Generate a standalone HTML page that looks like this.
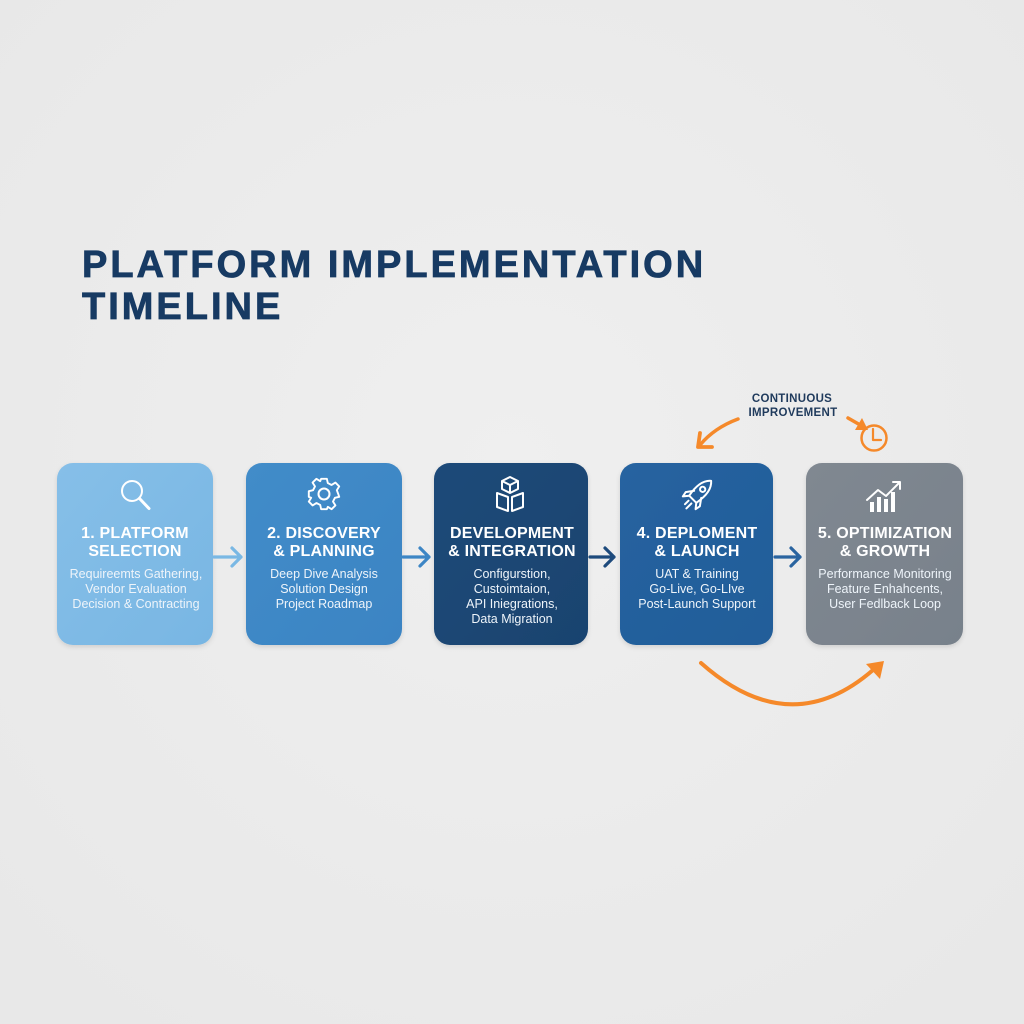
<!DOCTYPE html>
<html><head><meta charset="utf-8"><style>
html,body{margin:0;padding:0;background:#ebebeb;}
svg{display:block;}
</style></head><body>
<svg width="1024" height="1024" viewBox="0 0 1024 1024" xmlns="http://www.w3.org/2000/svg">
<defs>
<radialGradient id="bg" cx="50%" cy="45%" r="70%"><stop offset="0" stop-color="#efefef"/><stop offset="1" stop-color="#e8e8e8"/></radialGradient>
<linearGradient id="g1" x1="0" y1="0" x2="1" y2="1"><stop offset="0" stop-color="#86bfe8"/><stop offset="1" stop-color="#78b6e3"/></linearGradient>
<linearGradient id="g2" x1="0" y1="0" x2="1" y2="1"><stop offset="0" stop-color="#428cc9"/><stop offset="1" stop-color="#3b84c3"/></linearGradient>
<linearGradient id="g3" x1="0" y1="0" x2="1" y2="1"><stop offset="0" stop-color="#1d4a79"/><stop offset="1" stop-color="#19436f"/></linearGradient>
<linearGradient id="g4" x1="0" y1="0" x2="1" y2="1"><stop offset="0" stop-color="#2663a0"/><stop offset="1" stop-color="#225d99"/></linearGradient>
<linearGradient id="g5" x1="0" y1="0" x2="1" y2="1"><stop offset="0" stop-color="#808891"/><stop offset="1" stop-color="#78818b"/></linearGradient>
<filter id="sh" x="-10%" y="-10%" width="120%" height="125%"><feDropShadow dx="0" dy="2" stdDeviation="2.5" flood-color="#000" flood-opacity="0.12"/></filter>
</defs>
<rect width="1024" height="1024" fill="url(#bg)"/>

<!-- Title -->
<g font-family="Liberation Sans, sans-serif" font-weight="bold" font-size="38" fill="#173a63" stroke="#173a63" stroke-width="0.8" letter-spacing="3">
<text x="82" y="277">PLATFORM IMPLEMENTATION</text>
<text x="82" y="319">TIMELINE</text>
</g>

<!-- Boxes -->
<g filter="url(#sh)">
<rect x="57" y="463" width="156" height="182" rx="16" fill="url(#g1)"/>
<rect x="246" y="463" width="156" height="182" rx="16" fill="url(#g2)"/>
<rect x="434" y="463" width="154" height="182" rx="16" fill="url(#g3)"/>
<rect x="620" y="463" width="153" height="182" rx="16" fill="url(#g4)"/>
<rect x="806" y="463" width="157" height="182" rx="16" fill="url(#g5)"/>
</g>

<!-- connector arrows -->
<g fill="none" stroke-width="3.2" stroke-linecap="round" stroke-linejoin="round">
<path d="M214 557 H241 M232 548 L241 557 L232 566" stroke="#7ab8e4"/>
<path d="M403 557 H429 M420 548 L429 557 L420 566" stroke="#3d86c5"/>
<path d="M590 557 H614 M605 548 L614 557 L605 566" stroke="#1d4a7c"/>
<path d="M775 557 H800 M791 548 L800 557 L791 566" stroke="#2a64a0"/>
</g>

<!-- Icons -->
<g fill="none" stroke="#ffffff" stroke-width="2" stroke-linecap="round" stroke-linejoin="round">
<circle cx="132" cy="491" r="10"/>
<path d="M139.5 498.5 L149 508.5" stroke-width="3"/>
<g transform="translate(324,494)">
<path d="M-3 -16 L3 -16 L4 -11.5 L8 -9.5 L12 -12 L16 -8 L13.5 -4 L15 0 L16 3 L11.5 4 L9.5 8 L12 12 L8 16 L4 13.5 L3 16 L-3 16 L-4 11.5 L-8 9.5 L-12 12 L-16 8 L-13.5 4 L-16 3 L-16 -3 L-11.5 -4 L-9.5 -8 L-12 -12 L-8 -16 L-4 -13.5 Z" transform="scale(0.95)"/>
<circle cx="0" cy="0" r="5.5"/>
</g>
<g transform="translate(510,495)">
<path d="M-8 -14 L0 -18 L8 -14 L8 -6 L0 -2 L-8 -6 Z M-8 -14 L0 -10 L8 -14 M0 -10 L0 -2"/>
<path d="M-13 -2 L-2 2 L-2 16 L-13 12 Z M13 -2 L2 2 L2 16 L13 12 Z"/>
</g>
<g transform="translate(697,495) rotate(45)">
<path d="M0 -20 C7 -14 7 -4 5 6 L-5 6 C-7 -4 -7 -14 0 -20 Z"/>
<circle cx="0" cy="-8" r="2.6"/>
<path d="M-5 -1 L-10 6 L-9 11 L-5 6 M5 -1 L10 6 L9 11 L5 6"/>
<path d="M-2 10 L-2 15 M2 10 L2 17"/>
</g>
<g>
<path d="M867 500 L878 490 L886 496 L899 483"/>
<path d="M893 482 L900 482 L900 489" />
</g>
</g>
<g fill="#ffffff">
<rect x="870" y="502" width="4" height="10"/>
<rect x="877" y="497" width="4" height="15"/>
<rect x="884" y="499" width="4" height="13"/>
<rect x="891" y="492" width="4" height="20"/>
</g>

<!-- Box titles -->
<g font-family="Liberation Sans, sans-serif" font-weight="bold" font-size="16" fill="#ffffff" text-anchor="middle" letter-spacing="0.2">
<text x="135" y="538">1. PLATFORM</text>
<text x="135" y="556">SELECTION</text>
<text x="324" y="538">2. DISCOVERY</text>
<text x="324" y="556">&amp; PLANNING</text>
<text x="512" y="538">DEVELOPMENT</text>
<text x="512" y="556">&amp; INTEGRATION</text>
<text x="697" y="538">4. DEPLOMENT</text>
<text x="697" y="556">&amp; LAUNCH</text>
<text x="885" y="538">5. OPTIMIZATION</text>
<text x="885" y="556">&amp; GROWTH</text>
</g>

<!-- Box descriptions -->
<g font-family="Liberation Sans, sans-serif" font-size="12.5" fill="#eef4fa" text-anchor="middle">
<text x="136" y="578">Requireemts Gathering,</text>
<text x="136" y="593">Vendor Evaluation</text>
<text x="136" y="608">Decision &amp; Contracting</text>
<text x="324" y="578">Deep Dive Analysis</text>
<text x="324" y="593">Solution Design</text>
<text x="324" y="608">Project Roadmap</text>
<text x="512" y="578">Configurstion,</text>
<text x="512" y="593">Custoimtaion,</text>
<text x="512" y="608">API Iniegrations,</text>
<text x="512" y="623">Data Migration</text>
<text x="697" y="578">UAT &amp; Training</text>
<text x="697" y="593">Go-Live, Go-LIve</text>
<text x="697" y="608">Post-Launch Support</text>
<text x="885" y="578">Performance Monitoring</text>
<text x="885" y="593">Feature Enhahcents,</text>
<text x="885" y="608">User Fedlback Loop</text>
</g>

<!-- Continuous improvement -->
<g font-family="Liberation Sans, sans-serif" font-weight="bold" font-size="11.5" fill="#1f3a5c" text-anchor="middle" letter-spacing="0.3">
<text x="792" y="402">CONTINUOUS</text>
<text x="793" y="416">IMPROVEMENT</text>
</g>
<g fill="none" stroke="#f5892a" stroke-linecap="round" stroke-linejoin="round">
<path d="M738 419 Q714 428 700 445" stroke-width="3.5"/>
<path d="M700 433 L698 447 L712 447" stroke-width="3.8"/>
<path d="M848 418 L862 426" stroke-width="3.5"/>
<circle cx="874" cy="438" r="12.5" stroke-width="2.5"/>
<path d="M873 429 L873 440 L881 440" stroke-width="2.2"/>
<path d="M701 663 Q790 742 873 670" stroke-width="4"/>
</g>
<g fill="#f5892a">
<polygon points="855,430 868,430 862,418"/>
<polygon points="866,664 884,661 880,679"/>
</g>
</svg>
</body></html>
